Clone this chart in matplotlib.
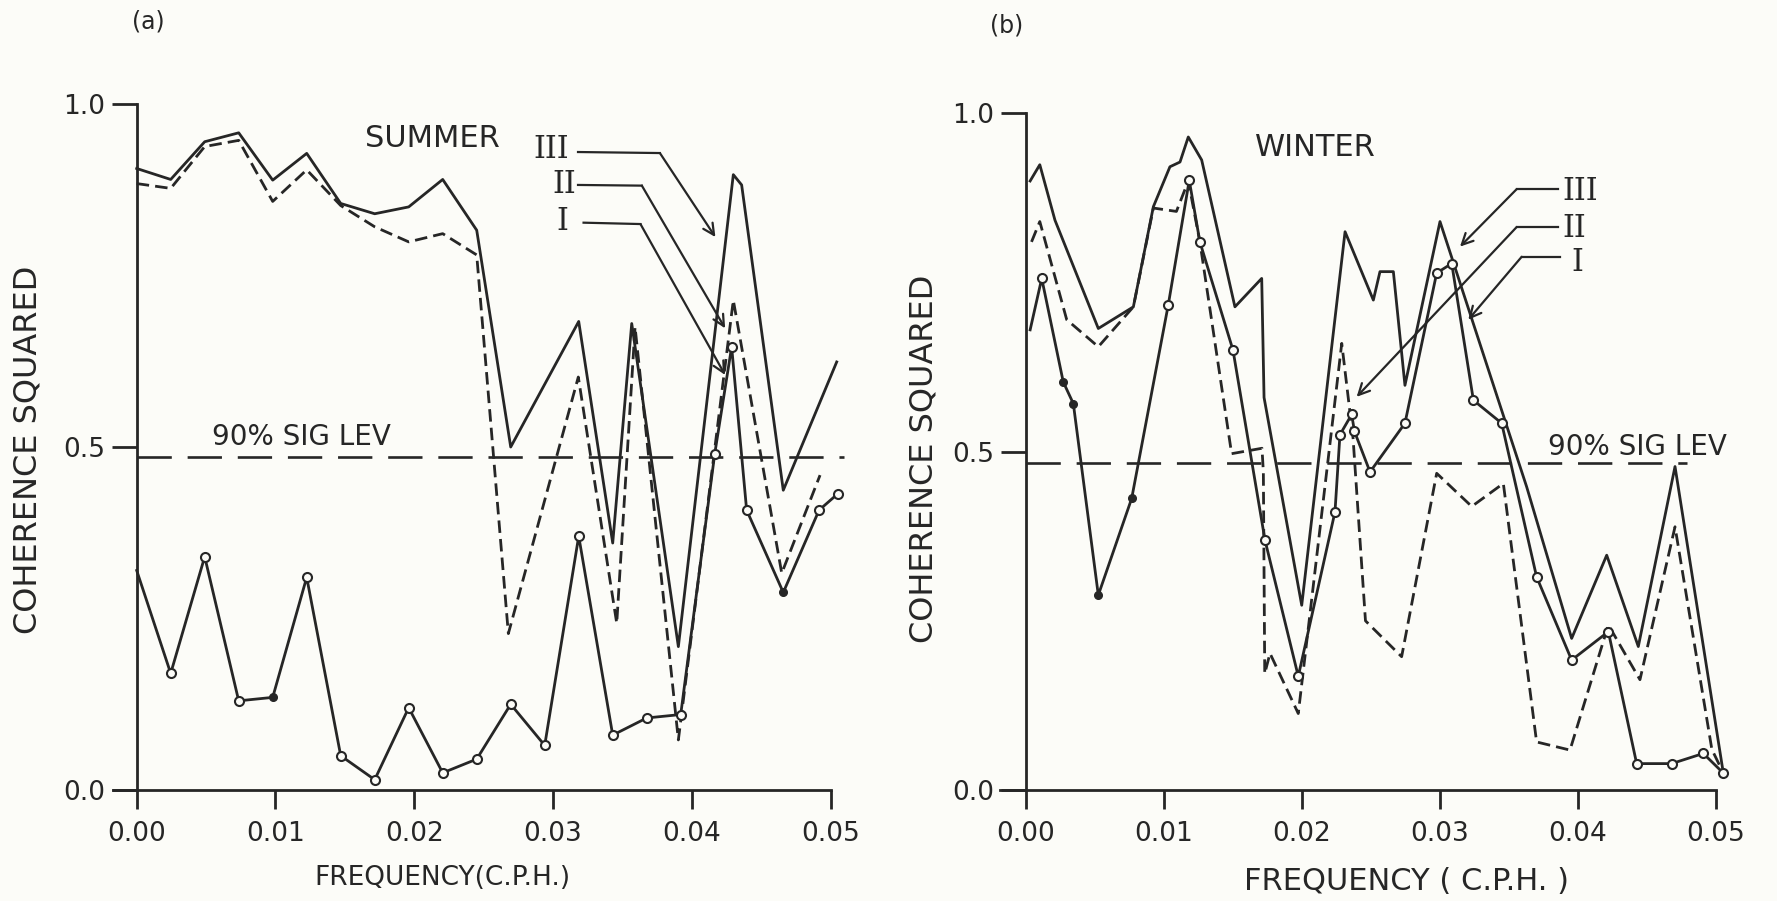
import matplotlib
matplotlib.use("Agg")
import matplotlib.pyplot as plt

# ---------------- data (frequency in c.p.h., coherence squared) ----------------
# Panel (a) SUMMER
summer_f_III = [0.0, 0.00245, 0.0049, 0.00735, 0.0098, 0.01225, 0.0147, 0.01715, 0.0196,
                0.02205, 0.0245, 0.02695, 0.03185, 0.0343, 0.03567, 0.03903, 0.04299,
                0.04359, 0.04659, 0.05044]
summer_III = [0.906, 0.890, 0.945, 0.958, 0.889, 0.928, 0.855, 0.840, 0.850, 0.890, 0.816,
              0.50, 0.683, 0.36, 0.68, 0.209, 0.897, 0.882, 0.437, 0.624]

summer_f_II = [0.0, 0.00245, 0.0049, 0.00735, 0.0098, 0.01225, 0.0147, 0.01715, 0.0196,
               0.02205, 0.0245, 0.02678, 0.03182, 0.03459, 0.03591, 0.03903, 0.04299,
               0.04648, 0.04924]
summer_II = [0.884, 0.877, 0.938, 0.947, 0.858, 0.904, 0.852, 0.821, 0.799, 0.811, 0.78,
             0.228, 0.602, 0.243, 0.675, 0.073, 0.714, 0.316, 0.459]

summer_f_I = [0.0, 0.00245, 0.0049, 0.00735, 0.0098, 0.01225, 0.0147, 0.01715, 0.0196,
              0.02205, 0.0245, 0.02695, 0.0294, 0.03185, 0.0343, 0.03675, 0.0392,
              0.04165, 0.04287, 0.04395, 0.04659, 0.04917, 0.05053]
summer_I = [0.32, 0.17, 0.34, 0.13, 0.135, 0.31, 0.05, 0.015, 0.12, 0.025, 0.045, 0.125,
            0.065, 0.37, 0.08, 0.105, 0.11, 0.49, 0.646, 0.408, 0.288, 0.408, 0.432]

# Panel (b) WINTER
winter_f_III = [0.0003, 0.001, 0.0021, 0.00524, 0.00778, 0.00923, 0.01043, 0.01116, 0.01176,
                0.01273, 0.01514, 0.01708, 0.01725, 0.01998, 0.02312, 0.02517, 0.02565,
                0.02662, 0.02746, 0.03, 0.03628, 0.03954, 0.04208, 0.04437, 0.04703, 0.05053]
winter_III = [0.90, 0.924, 0.842, 0.682, 0.714, 0.862, 0.921, 0.928, 0.965, 0.931, 0.714,
              0.756, 0.58, 0.273, 0.825, 0.724, 0.766, 0.766, 0.598, 0.84, 0.448, 0.224,
              0.347, 0.212, 0.478, 0.025]

winter_f_II = [0.0004, 0.001, 0.00295, 0.00524, 0.00778, 0.00923, 0.0109, 0.01176, 0.0126,
               0.0149, 0.0171, 0.0172, 0.0173, 0.01768, 0.01973, 0.02288, 0.0237, 0.0246,
               0.02722, 0.02976, 0.0323, 0.03459, 0.037, 0.03942, 0.0422, 0.04449, 0.04703,
               0.0497, 0.05053]
winter_II = [0.81, 0.84, 0.695, 0.655, 0.714, 0.86, 0.855, 0.90, 0.81, 0.497, 0.505, 0.47,
             0.172, 0.202, 0.113, 0.66, 0.52, 0.25, 0.197, 0.468, 0.419, 0.453, 0.071, 0.059,
             0.244, 0.163, 0.389, 0.06, 0.025]

winter_f_I = [0.0003, 0.00114, 0.0027, 0.00343, 0.00524, 0.00766, 0.01031, 0.01183, 0.0126,
              0.015, 0.01732, 0.01973, 0.02239, 0.02275, 0.0236, 0.0238, 0.02493, 0.02746,
              0.02976, 0.03085, 0.03242, 0.03447, 0.037, 0.03954, 0.0422, 0.04425, 0.04679,
              0.04908, 0.05053]
winter_I = [0.68, 0.756, 0.603, 0.571, 0.288, 0.431, 0.717, 0.901, 0.81, 0.65, 0.369, 0.168,
            0.411, 0.525, 0.555, 0.53, 0.47, 0.542, 0.764, 0.778, 0.576, 0.542, 0.315, 0.192,
            0.234, 0.039, 0.039, 0.054, 0.025]

sig_level_summer = 0.485
sig_level_winter = 0.483

x_ticks = [0.0, 0.01, 0.02, 0.03, 0.04, 0.05]
x_tick_labels = ["0.00", "0.01", "0.02", "0.03", "0.04", "0.05"]
y_ticks = [0.0, 0.5, 1.0]
y_tick_labels = ["0.0", "0.5", "1.0"]

# ---------------- style ----------------
INK = "#262626"
BG = "#fcfcf8"
plt.rcParams["font.family"] = ["DejaVu Sans"]

fig = plt.figure(figsize=(17.77, 9.01), dpi=100, facecolor=BG)
W, H = 1777.0, 901.0

XMIN_A, XMIN_B, XMAX = -0.0017, -0.0019, 0.0515
# pixel position of f=0 and scale (px per unit frequency) for each panel
x0_a, sx_a = 136.7, 13878.0
x0_b, sx_b = 1026.0, 13800.0
ax_a = fig.add_axes([(x0_a + XMIN_A * sx_a) / W, 111 / H,
                     (XMAX - XMIN_A) * sx_a / W, 686 / H])
ax_b = fig.add_axes([(x0_b + XMIN_B * sx_b) / W, 111 / H,
                     (XMAX - XMIN_B) * sx_b / W, 676.7 / H])


def setup(ax, xmin, xmax):
    ax.set_facecolor("none")
    ax.set_xlim(xmin, xmax)
    ax.set_ylim(0, 1.0)
    for s in ("top", "right"):
        ax.spines[s].set_visible(False)
    ax.spines["left"].set_position(("data", 0))
    ax.spines["left"].set_bounds(0, 1.0)
    ax.spines["bottom"].set_bounds(xmin, 0.05)
    for s in ("left", "bottom"):
        ax.spines[s].set_linewidth(2.0)
        ax.spines[s].set_color(INK)
    ax.set_xticks(x_ticks)
    ax.set_xticklabels(x_tick_labels)
    ax.set_yticks(y_ticks)
    ax.set_yticklabels(y_tick_labels)
    ax.tick_params(axis="x", direction="out", length=14, width=2, pad=8,
                   labelsize=19, colors=INK)
    ax.tick_params(axis="y", direction="out", length=18, width=2, pad=5,
                   labelsize=19, colors=INK)


def draw_series(ax, fI, I, fII, II, fIII, III, filled_I):
    ax.plot(fIII, III, color=INK, lw=2.0, clip_on=False, zorder=3)
    ax.plot(fII, II, color=INK, lw=2.0, dashes=(4.5, 2.2), clip_on=False, zorder=3)
    ax.plot(fI, I, color=INK, lw=2.0, clip_on=False, zorder=4)
    idx_open = [i for i in range(1, len(fI)) if i not in filled_I]
    ax.plot([fI[i] for i in idx_open], [I[i] for i in idx_open], ls="none", marker="o",
            ms=6.5, mfc=BG, mec=INK, mew=1.5, clip_on=False, zorder=5)
    ax.plot([fI[i] for i in filled_I], [I[i] for i in filled_I], ls="none", marker="o",
            ms=5.5, mfc=INK, mec=INK, clip_on=False, zorder=5)


def leader(ax, p0, p1, p2):
    ax.plot([p0[0], p1[0]], [p0[1], p1[1]], color=INK, lw=1.6, clip_on=False, zorder=6)
    ax.annotate("", xy=p2, xytext=p1,
                arrowprops=dict(arrowstyle="->", lw=1.6, color=INK, shrinkA=0, shrinkB=0,
                                mutation_scale=20), zorder=6)


roman = dict(family="DejaVu Serif", fontsize=22, color=INK, ha="center", va="center")
txt = dict(color=INK, ha="center", va="center")

# ---------------- panel (a) ----------------
setup(ax_a, XMIN_A, XMAX)
ax_a.plot([0, 0.051], [sig_level_summer] * 2, color=INK, lw=1.9, dashes=(13, 6), zorder=2)
draw_series(ax_a, summer_f_I, summer_I, summer_f_II, summer_II, summer_f_III, summer_III,
            filled_I=[4, 20])
ax_a.text(0.0213, 0.949, "SUMMER", fontsize=22, **txt)
ax_a.text(0.0119, 0.515, "90% SIG LEV", fontsize=20, **txt)
ax_a.text(0.0299, 0.934, "III", **roman)
ax_a.text(0.0308, 0.883, "II", **roman)
ax_a.text(0.0307, 0.828, "I", **roman)
leader(ax_a, (0.0318, 0.930), (0.0377, 0.9285), (0.0417, 0.806))
leader(ax_a, (0.0318, 0.882), (0.0364, 0.881), (0.0424, 0.673))
leader(ax_a, (0.0322, 0.827), (0.0363, 0.825), (0.0424, 0.605))

# ---------------- panel (b) ----------------
setup(ax_b, XMIN_B, XMAX)
ax_b.plot([0, 0.0479], [sig_level_winter] * 2, color=INK, lw=1.9, dashes=(13, 6), zorder=2)
draw_series(ax_b, winter_f_I, winter_I, winter_f_II, winter_II, winter_f_III, winter_III,
            filled_I=[2, 3, 4, 5])
ax_b.text(0.0210, 0.950, "WINTER", fontsize=22, **txt)
ax_b.text(0.0443, 0.507, "90% SIG LEV", fontsize=20, **txt)
ax_b.text(0.04014, 0.884, "III", **roman)
ax_b.text(0.03971, 0.830, "II", **roman)
ax_b.text(0.03993, 0.779, "I", **roman)
leader(ax_b, (0.03855, 0.888), (0.03556, 0.888), (0.03145, 0.803))
leader(ax_b, (0.03855, 0.832), (0.03556, 0.832), (0.02396, 0.581))
leader(ax_b, (0.0387, 0.788), (0.03592, 0.788), (0.03205, 0.695))

# ---------------- figure texts ----------------
fig.text(148 / W, 1 - 22 / H, "(a)", fontsize=17, **txt)
fig.text(1007 / W, 1 - 25 / H, "(b)", fontsize=17, **txt)
fig.text(28 / W, 1 - 450 / H, "COHERENCE SQUARED", fontsize=23, rotation=90, **txt)
fig.text(924 / W, 1 - 459 / H, "COHERENCE SQUARED", fontsize=23, rotation=90, **txt)
fig.text(442 / W, 1 - 878 / H, "FREQUENCY(C.P.H.)", fontsize=19, **txt)
fig.text(1407 / W, 1 - 882 / H, "FREQUENCY ( C.P.H. )", fontsize=22, **txt)

fig.savefig("out.png", dpi=100, facecolor=BG)
